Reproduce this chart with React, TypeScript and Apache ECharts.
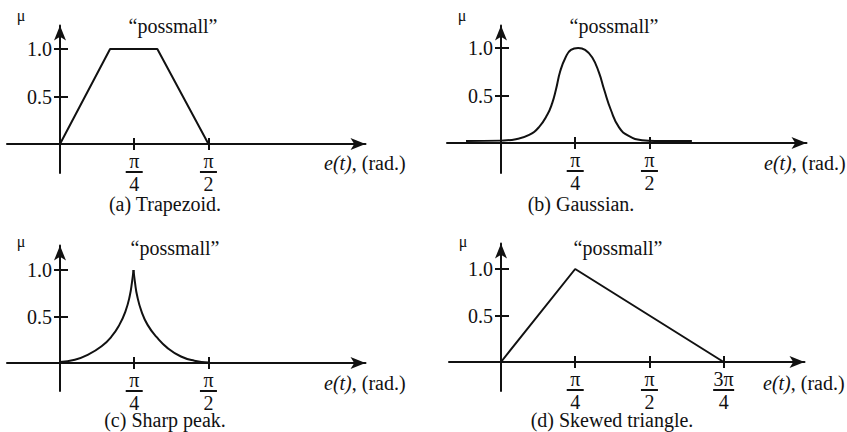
import { useEffect, useRef } from 'react';
import * as echarts from 'echarts';

const FONT = "'Liberation Serif', 'Times New Roman', serif";
const INK = '#111111';

// Membership functions of the fuzzy set, x = e(t) in radians, y = membership μ
const trapezoid: [number, number][] = [
  [0, 0], [0.53, 1], [1.03, 1], [1.571, 0],
];

const gaussian: [number, number][] = [
  [-0.37, 0.02], [0, 0.025], [0.157, 0.04], [0.298, 0.085], [0.4, 0.165],
  [0.491, 0.3], [0.542, 0.42], [0.581, 0.56], [0.628, 0.76], [0.683, 0.9],
  [0.74, 0.98], [0.817, 1.0], [0.89, 0.98], [0.966, 0.9], [1.037, 0.74],
  [1.092, 0.56], [1.162, 0.35], [1.249, 0.165], [1.351, 0.074], [1.492, 0.03],
  [1.65, 0.022], [2.02, 0.02],
];

const sharpPeakLeft: [number, number][] = [
  [0, 0.01], [0.157, 0.035], [0.298, 0.09], [0.44, 0.18], [0.542, 0.28],
  [0.628, 0.41], [0.691, 0.55], [0.738, 0.72], [0.762, 0.87], [0.778, 1.0],
];

const sharpPeakRight: [number, number][] = [
  [0.778, 1.0], [0.793, 0.87], [0.817, 0.72], [0.864, 0.55], [0.927, 0.41],
  [1.021, 0.28], [1.139, 0.16], [1.28, 0.07], [1.422, 0.025], [1.571, 0.005],
];

const skewedTriangle: [number, number][] = [
  [0, 0], [0.785, 1], [2.356, 0],
];

const setName = '\u201Cpossmall\u201D';
const captions = ['(a) Trapezoid.', '(b) Gaussian.', '(c) Sharp peak.', '(d) Skewed triangle.'];

// Tick marks and their labels
const yTickValues = [0.5, 1.0];
const xTickValues = [Math.PI / 4, Math.PI / 2, (3 * Math.PI) / 4];
const xTickNumerators = ['\u03C0', '\u03C0', '3\u03C0'];
const xTickDenominators = ['4', '2', '4'];
const xTickCounts = [2, 2, 2, 3];

// Pixel layout of each panel: origin, scale, axis extents
const panels = [
  { ox: 60, oy: 144, ppr: 94.5, ppu: 95, x0: 7, xTip: 373, yTip: 18, y1: 173 },
  { ox: 501, oy: 143, ppr: 94.5, ppu: 95, x0: 447, xTip: 814, yTip: 18, y1: 173 },
  { ox: 60, oy: 363, ppr: 94.5, ppu: 93, x0: 7, xTip: 373, yTip: 238, y1: 391 },
  { ox: 501, oy: 362, ppr: 94.5, ppu: 93, x0: 449, xTip: 812, yTip: 236, y1: 391 },
];

const textPos = [
  { mu: [21, 15], name: [173, 26], axisName: [324, 163], caption: [165, 204] },
  { mu: [462, 15], name: [614, 26], axisName: [764, 163], caption: [581, 204] },
  { mu: [21, 241], name: [175, 248], axisName: [324, 383], caption: [165, 420] },
  { mu: [463, 241], name: [618, 248], axisName: [763, 383], caption: [612, 420] },
];

const ARROW: [number, number] = [9, 15];
const FS = 20;

function xLabel(v: number): string {
  let idx = 0;
  let best = Infinity;
  xTickValues.forEach((t, i) => {
    const d = Math.abs(t - v);
    if (d < best) { best = d; idx = i; }
  });
  const num = xTickNumerators[idx];
  const bar = num.length > 1 ? 'bw' : 'b';
  return `{n|${num}}\n{${bar}| }\n{d|${xTickDenominators[idx]}}`;
}

function buildOption() {
  const grid: any[] = [];
  const xAxis: any[] = [];
  const yAxis: any[] = [];
  const graphic: any[] = [];

  panels.forEach((p, i) => {
    const gx1 = p.xTip - ARROW[1] / 2;
    const gy0 = p.yTip + ARROW[1] / 2;
    grid.push({
      left: p.x0, top: gy0, width: gx1 - p.x0, height: p.y1 - gy0,
      containLabel: false, outerBoundsMode: 'none',
    });
    const xmin = (p.x0 - p.ox) / p.ppr;
    const xmax = (gx1 - p.ox) / p.ppr;
    const ymax = (p.oy - gy0) / p.ppu;
    const ymin = (p.oy - p.y1) / p.ppu;
    const xt = xTickValues.slice(0, xTickCounts[i]);

    // axes are shifted onto the origin with offsets; paired axes give ticks on both sides
    xAxis.push({
      gridIndex: i, type: 'value', min: xmin, max: xmax, position: 'bottom',
      offset: p.oy - p.y1,
      axisLine: { show: true, onZero: false, symbol: ['none', 'arrow'], symbolSize: ARROW,
        lineStyle: { color: INK, width: 2 } },
      axisTick: { show: true, customValues: xt, length: 6, lineStyle: { color: INK, width: 2 } },
      axisLabel: {
        show: true, customValues: xt, margin: 9, formatter: xLabel, color: INK,
        rich: {
          n: { fontFamily: FONT, fontSize: FS, lineHeight: 16, color: INK },
          b: { width: 17, height: 2, lineHeight: 6, fontSize: 2, backgroundColor: INK },
          bw: { width: 21, height: 2, lineHeight: 6, fontSize: 2, backgroundColor: INK },
          d: { fontFamily: FONT, fontSize: FS, lineHeight: 17, color: INK },
        },
      },
      splitLine: { show: false },
    });
    xAxis.push({
      gridIndex: i, type: 'value', min: xmin, max: xmax, position: 'top',
      offset: gy0 - p.oy,
      axisLine: { show: false, onZero: false },
      axisTick: { show: true, customValues: xt, length: 6, lineStyle: { color: INK, width: 2 } },
      axisLabel: { show: false },
      splitLine: { show: false },
    });
    yAxis.push({
      gridIndex: i, type: 'value', min: ymin, max: ymax, position: 'left',
      offset: p.x0 - p.ox,
      axisLine: { show: true, onZero: false, symbol: ['none', 'arrow'], symbolSize: ARROW,
        lineStyle: { color: INK, width: 2 } },
      axisTick: { show: true, customValues: yTickValues, length: 6, lineStyle: { color: INK, width: 2 } },
      axisLabel: {
        show: true, customValues: yTickValues, margin: 8, color: INK,
        fontFamily: FONT, fontSize: FS, formatter: (v: number) => v.toFixed(1),
      },
      splitLine: { show: false },
    });
    yAxis.push({
      gridIndex: i, type: 'value', min: ymin, max: ymax, position: 'right',
      offset: p.ox - gx1,
      axisLine: { show: false, onZero: false },
      axisTick: { show: true, customValues: yTickValues, length: 8, lineStyle: { color: INK, width: 2 } },
      axisLabel: { show: false },
      splitLine: { show: false },
    });

    const t = textPos[i];
    graphic.push(
      { type: 'text', x: t.mu[0], y: t.mu[1], silent: true,
        style: { text: '\u03BC', font: `16px ${FONT}`, fill: INK, textAlign: 'center', textVerticalAlign: 'middle' } },
      { type: 'text', x: t.name[0], y: t.name[1], silent: true,
        style: { text: setName, font: `${FS}px ${FONT}`, fill: INK, textAlign: 'center', textVerticalAlign: 'middle' } },
      { type: 'text', x: t.axisName[0], y: t.axisName[1], silent: true,
        style: {
          text: '{i|e(t)}{r|, (rad.)}', textAlign: 'left', textVerticalAlign: 'middle',
          rich: {
            i: { fontFamily: FONT, fontSize: FS, fontStyle: 'italic', fill: INK, color: INK },
            r: { fontFamily: FONT, fontSize: FS, fill: INK, color: INK },
          },
        } },
      { type: 'text', x: t.caption[0], y: t.caption[1], silent: true,
        style: { text: captions[i], font: `${FS}px ${FONT}`, fill: INK, textAlign: 'center', textVerticalAlign: 'middle' } },
    );
  });

  const line = (panel: number, data: [number, number][], smooth: number | false) => ({
    type: 'line', xAxisIndex: panel * 2, yAxisIndex: panel * 2, data,
    showSymbol: false, symbol: 'none', smooth, silent: true, clip: false,
    lineStyle: { color: INK, width: 2 }, z: 3,
  });

  return {
    animation: false,
    backgroundColor: '#ffffff',
    grid, xAxis, yAxis, graphic,
    series: [
      line(0, trapezoid, false),
      line(1, gaussian, 0.5),
      line(2, sharpPeakLeft, 0.5),
      line(2, sharpPeakRight, 0.5),
      line(3, skewedTriangle, false),
    ],
  };
}

export default function App() {
  const ref = useRef<HTMLDivElement>(null);
  useEffect(() => {
    if (!ref.current) return;
    const chart = echarts.init(ref.current, undefined, { renderer: 'svg' });
    chart.setOption(buildOption() as any);
    return () => chart.dispose();
  }, []);
  return (
    <div
      ref={ref}
      style={{ position: 'fixed', left: 0, top: 0, width: 847, height: 432, background: '#fff' }}
    />
  );
}
